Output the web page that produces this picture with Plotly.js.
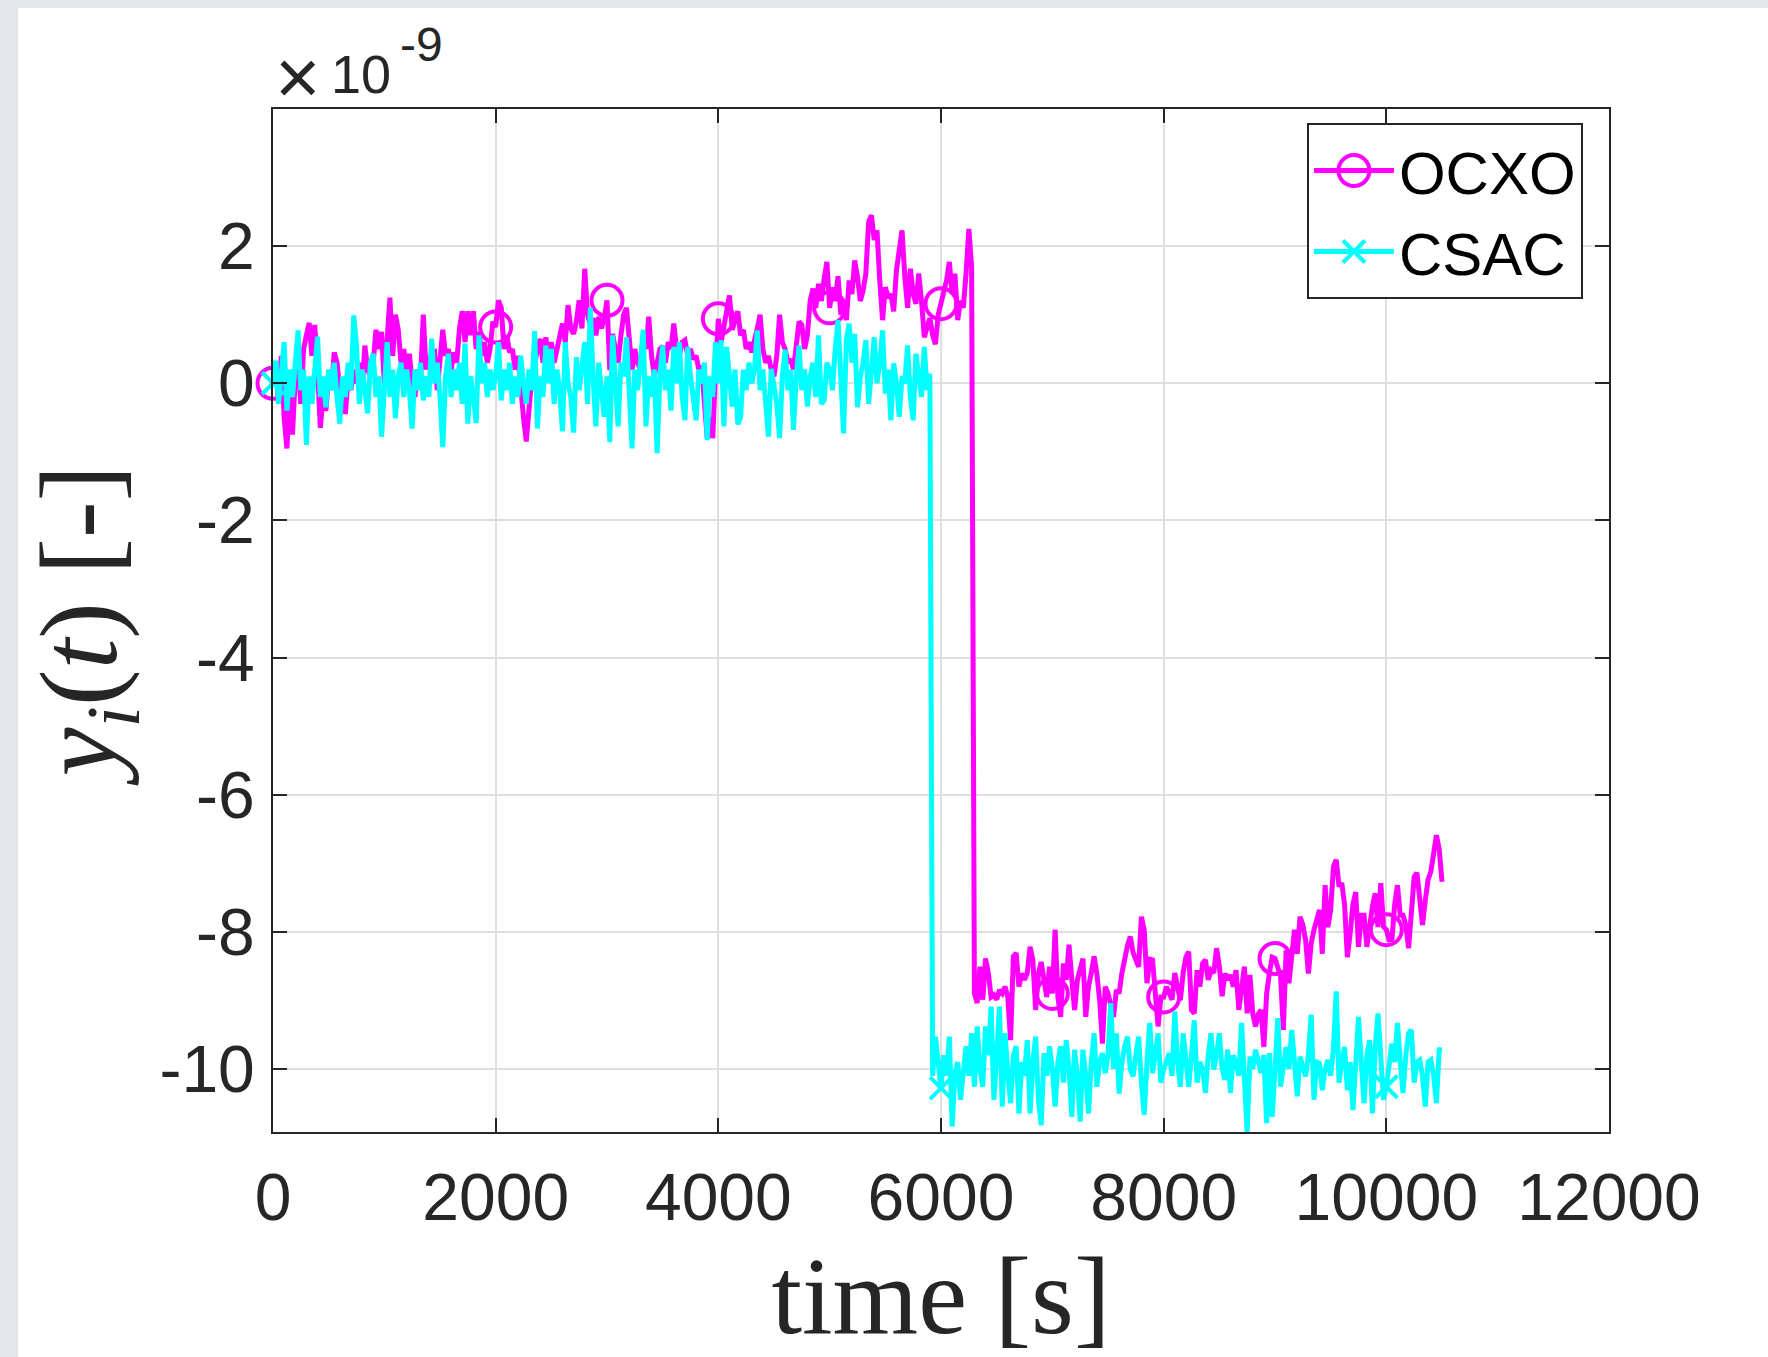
<!DOCTYPE html>
<html><head><meta charset="utf-8">
<script src="https://cdn.plot.ly/plotly-3.0.1.min.js"></script>
<style>
html,body{margin:0;padding:0;background:#e2e6e6;width:1768px;height:1357px;overflow:hidden}
#chart{position:absolute;left:18px;top:8px;width:1750px;height:1349px;background:#fff}
</style></head><body><div id="chart"></div>
<script>
// sample times [s]
const time = [
0,25,50,75,100,125,150,175,200,225,250,275,300,325,350,375,400,425,450,475,500,525,550,575,600,625,650,675,700,725,750,775,800,825,850,875,900,925,950,975,
1000,1025,1050,1075,1100,1125,1150,1175,1200,1225,1250,1275,1300,1325,1350,1375,1400,1425,1450,1475,1500,1525,1550,1575,1600,1625,1650,1675,1700,1725,1750,1775,1800,1825,1850,1875,1900,1925,1950,1975,
2000,2025,2050,2075,2100,2125,2150,2175,2200,2225,2250,2275,2300,2325,2350,2375,2400,2425,2450,2475,2500,2525,2550,2575,2600,2625,2650,2675,2700,2725,2750,2775,2800,2825,2850,2875,2900,2925,2950,2975,
3000,3025,3050,3075,3100,3125,3150,3175,3200,3225,3250,3275,3300,3325,3350,3375,3400,3425,3450,3475,3500,3525,3550,3575,3600,3625,3650,3675,3700,3725,3750,3775,3800,3825,3850,3875,3900,3925,3950,3975,
4000,4025,4050,4075,4100,4125,4150,4175,4200,4225,4250,4275,4300,4325,4350,4375,4400,4425,4450,4475,4500,4525,4550,4575,4600,4625,4650,4675,4700,4725,4750,4775,4800,4825,4850,4875,4900,4925,4950,4975,
5000,5025,5050,5075,5100,5125,5150,5175,5200,5225,5250,5275,5300,5325,5350,5375,5400,5425,5450,5475,5500,5525,5550,5575,5600,5625,5650,5675,5700,5725,5750,5775,5800,5825,5850,5875,5900,5925,5950,5975,
6000,6025,6050,6075,6100,6125,6150,6175,6200,6225,6250,6275,6300,6325,6350,6375,6400,6425,6450,6475,6500,6525,6550,6575,6600,6625,6650,6675,6700,6725,6750,6775,6800,6825,6850,6875,6900,6925,6950,6975,
7000,7025,7050,7075,7100,7125,7150,7175,7200,7225,7250,7275,7300,7325,7350,7375,7400,7425,7450,7475,7500,7525,7550,7575,7600,7625,7650,7675,7700,7725,7750,7775,7800,7825,7850,7875,7900,7925,7950,7975,
8000,8025,8050,8075,8100,8125,8150,8175,8200,8225,8250,8275,8300,8325,8350,8375,8400,8425,8450,8475,8500,8525,8550,8575,8600,8625,8650,8675,8700,8725,8750,8775,8800,8825,8850,8875,8900,8925,8950,8975,
9000,9025,9050,9075,9100,9125,9150,9175,9200,9225,9250,9275,9300,9325,9350,9375,9400,9425,9450,9475,9500,9525,9550,9575,9600,9625,9650,9675,9700,9725,9750,9775,9800,9825,9850,9875,9900,9925,9950,9975,
10000,10025,10050,10075,10100,10125,10150,10175,10200,10225,10250,10275,10300,10325,10350,10375,10400,10425,10450,10475,10500
];

// OCXO fractional frequency, units of 1e-9
const ocxo = [
0.0,0.2,-0.3,0.4,-0.5,-0.95,-0.2,-0.75,0.1,0.3,-0.3,0.5,0.7,0.88,0.4,0.85,0.2,-0.65,-0.2,-0.4,0.1,-0.1,0.45,0.3,-0.1,0.0,-0.45,0.1,-0.1,0.2,0.0,0.3,-0.1,0.55,0.2,0.1,0.3,0.78,0.5,0.75,
0.0,0.6,1.25,0.4,1.0,0.78,0.3,0.5,0.1,0.43,0.0,-0.2,0.2,0.05,1.0,0.2,0.4,0.1,0.5,-0.1,0.3,0.78,0.4,0.5,0.2,0.45,0.3,0.8,1.05,0.6,1.05,0.7,1.05,0.5,0.75,0.4,0.6,0.3,0.5,0.9,
0.82,1.21,1.1,0.5,0.7,0.45,0.5,0.2,0.4,-0.1,-0.5,-0.85,-0.3,0.1,0.3,0.5,0.65,0.3,0.67,0.4,0.6,0.3,0.5,0.7,0.87,0.6,1.14,0.8,0.72,0.9,1.21,0.8,1.67,1.0,0.85,0.95,0.7,0.97,0.8,0.95,
1.21,0.19,0.72,0.5,0.3,0.7,1.0,1.1,0.6,0.2,0.5,0.3,0.2,0.6,0.5,0.97,0.4,0.1,0.3,0.5,0.54,0.3,0.6,0.5,0.87,0.5,0.4,0.6,0.63,0.4,0.5,0.35,0.4,0.2,0.25,-0.3,-0.8,-0.5,-0.8,0.2,
0.94,0.6,0.8,1.0,1.28,0.78,0.9,1.05,0.7,0.78,0.5,0.6,0.45,0.6,0.8,1.0,0.5,0.3,0.4,0.2,0.1,0.4,1.0,0.6,0.5,0.3,0.35,0.2,0.6,0.9,0.85,0.5,0.7,1.2,1.38,1.1,1.45,1.2,1.52,1.77,
1.1,1.4,1.2,1.56,1.0,1.21,0.92,1.5,1.3,1.79,1.55,1.2,1.35,1.6,2.35,2.45,2.09,2.23,1.5,0.92,1.4,1.25,1.3,1.05,1.65,1.9,2.23,1.55,1.1,1.67,1.3,1.16,1.6,1.2,0.67,0.82,0.95,0.7,0.57,1.0,
1.16,1.3,1.5,1.77,1.3,1.6,0.92,1.2,1.1,1.6,2.25,1.7,-8.9,-9.04,-8.51,-8.99,-8.39,-8.6,-8.95,-8.92,-8.99,-8.85,-8.9,-8.8,-8.95,-9.58,-8.36,-8.31,-8.8,-8.61,-8.7,-8.6,-8.22,-8.41,-9.14,-8.61,-8.44,-8.7,-8.95,-8.51,
-8.9,-7.97,-8.95,-9.24,-8.46,-8.7,-8.19,-8.7,-9.14,-8.7,-8.5,-8.39,-9.24,-8.8,-8.6,-8.36,-8.61,-9.0,-9.63,-8.8,-8.9,-9.07,-9.24,-8.85,-8.9,-8.6,-8.36,-8.2,-8.07,-8.3,-8.41,-8.51,-7.78,-7.97,-8.75,-8.4,-8.41,-8.99,-9.38,-8.95,
-8.95,-8.8,-8.9,-8.99,-8.6,-8.8,-9.0,-8.6,-8.37,-8.29,-9.14,-9.19,-8.56,-8.8,-8.46,-8.41,-8.7,-8.56,-8.6,-8.24,-8.5,-8.94,-8.61,-8.7,-8.63,-8.8,-8.56,-9.14,-8.8,-8.51,-9.19,-8.63,-9.19,-9.38,-9.2,-9.14,-9.68,-8.9,-8.6,-8.37,
-8.39,-8.51,-8.65,-9.43,-8.27,-8.75,-8.4,-7.97,-8.32,-7.78,-7.9,-8.12,-8.61,-8.17,-7.97,-7.8,-7.68,-8.32,-7.32,-7.93,-7.68,-7.05,-6.95,-7.34,-7.29,-7.6,-8.37,-8.02,-7.6,-7.42,-8.22,-7.76,-7.76,-8.22,-7.9,-7.63,-7.44,-7.93,-7.29,-7.93,
-7.97,-8.12,-8.12,-7.6,-7.32,-7.76,-7.76,-7.9,-8.24,-7.63,-7.2,-7.14,-7.5,-7.9,-7.54,-7.24,-7.12,-6.9,-6.59,-6.8,-7.27
];

// CSAC fractional frequency, units of 1e-9
const csac = [
0.0,0.33,-0.3,0.1,0.6,-0.4,0.2,-0.2,0.3,0.77,-0.1,0.2,-0.9,0.1,-0.3,0.2,0.68,-0.2,0.1,-0.35,0.2,-0.1,0.3,-0.2,-0.59,0.1,-0.2,0.3,-0.1,0.99,0.55,-0.3,0.2,-0.1,-0.44,0.3,0.43,-0.2,0.1,-0.78,
0.1,0.6,-0.2,0.2,-0.51,0.1,0.3,-0.2,0.2,-0.1,-0.66,0.2,-0.1,0.3,-0.25,0.1,-0.2,0.65,0.0,0.3,-0.2,-0.93,0.1,0.43,-0.2,0.2,-0.1,0.3,-0.3,0.58,-0.59,0.1,-0.2,-0.58,0.7,0.0,0.3,-0.2,0.2,-0.1,
0.1,0.6,-0.25,0.2,-0.1,0.3,-0.3,0.1,-0.2,0.4,0.0,-0.3,0.2,-0.1,0.76,-0.66,0.1,-0.2,0.55,0.0,0.5,-0.3,0.2,-0.1,-0.7,0.6,0.0,-0.2,-0.72,0.38,-0.1,0.2,0.6,-0.3,1.1,0.1,-0.63,0.3,-0.1,-0.49,
0.1,-0.86,0.7,-0.1,-0.63,0.3,0.1,0.67,-0.2,-0.95,0.2,-0.1,0.3,0.78,-0.63,0.1,-0.2,0.2,-1.02,0.1,0.55,-0.1,0.2,-0.4,0.53,0.0,0.6,-0.2,-0.54,0.53,0.1,-0.2,-0.54,0.2,0.0,0.3,-0.83,0.1,-0.2,0.6,
0.0,0.63,-0.63,0.53,0.0,-0.34,0.2,-0.6,-0.49,0.2,-0.1,0.3,0.0,0.2,0.77,-0.1,0.2,-0.2,-0.78,0.21,0.0,-0.3,-0.8,0.1,0.49,-0.1,0.2,-0.68,0.1,0.55,-0.1,0.2,-0.34,0.1,0.3,-0.2,0.7,-0.3,-0.25,0.3,
0.2,-0.1,0.5,0.92,0.1,-0.73,0.63,0.87,0.3,0.72,-0.35,0.09,0.3,0.63,-0.3,0.2,0.67,0.0,0.3,0.77,-0.15,0.2,-0.54,0.29,0.0,-0.49,0.1,0.0,0.55,-0.2,-0.54,0.43,0.1,-0.2,0.53,-0.1,0.14,-10.1,-9.53,-9.9,
-10.28,-9.8,-10.1,-9.53,-10.84,-10.06,-9.9,-10.45,-10.0,-9.67,-10.1,-9.48,-10.26,-9.38,-10.0,-10.26,-9.38,-9.8,-9.09,-10.45,-9.8,-9.09,-10.55,-9.48,-10.06,-10.5,-9.8,-9.67,-10.65,-9.9,-10.1,-9.58,-10.65,-9.9,-9.53,-10.45,-10.82,-9.77,-10.1,-9.67,
-10.0,-10.55,-9.9,-9.67,-10.2,-9.58,-10.0,-10.7,-9.72,-10.1,-10.77,-9.72,-10.1,-10.65,-9.9,-9.48,-10.26,-9.9,-9.77,-10.06,-9.8,-9.04,-10.0,-9.48,-10.36,-9.9,-9.67,-9.53,-10.0,-10.11,-9.8,-9.53,-10.2,-10.67,-9.9,-9.33,-10.06,-9.8,-9.48,-10.2,
-10.0,-9.9,-9.77,-10.1,-9.16,-9.9,-10.26,-9.48,-9.9,-10.26,-9.8,-9.29,-10.2,-9.9,-10.0,-10.35,-9.8,-9.48,-10.01,-9.8,-9.48,-10.0,-10.16,-9.72,-10.35,-9.8,-9.92,-10.1,-9.33,-10.0,-10.94,-9.82,-10.0,-9.72,-9.9,-10.06,-9.8,-10.79,-9.77,-10.7,
-10.0,-9.26,-10.26,-9.9,-9.68,-10.0,-9.43,-9.9,-10.4,-9.82,-10.0,-10.11,-9.8,-9.21,-10.45,-9.9,-9.92,-10.31,-10.0,-9.87,-10.1,-9.7,-8.87,-10.2,-9.9,-9.68,-10.31,-9.9,-10.6,-10.0,-9.24,-9.9,-10.5,-9.8,-9.58,-10.65,-9.68,-9.19,-9.9,-10.45,
-10.26,-10.0,-9.63,-9.9,-9.33,-9.9,-10.35,-9.8,-9.48,-9.43,-10.2,-9.9,-9.87,-10.1,-10.55,-9.9,-9.87,-10.1,-10.5,-9.72,-9.72
];

const seriesNames = ['OCXO', 'CSAC'];
// times at which a visible marker is drawn on each curve
const ocxoMarkerTimes = [0, 2000, 3000, 4000, 5000, 6000, 7000, 8000, 9000, 10000];
const csacMarkerTimes = [0, 6000, 10000];
const xTickVals = [0, 2000, 4000, 6000, 8000, 10000, 12000];
const xTickText = ['0', '2000', '4000', '6000', '8000', '10000', '12000'];
const yTickVals = [-10, -8, -6, -4, -2, 0, 2];
const yTickText = ['-10', '-8', '-6', '-4', '-2', '0', '2'];

const idxOf = (times) => times.map(t => time.indexOf(t)).filter(i => i >= 0);

const axisCol = '#262626';
const traces = [
  {
    x: time, y: ocxo, name: seriesNames[0], type: 'scatter', mode: 'lines+markers',
    line: {color: '#ff00ff', width: 5},
    marker: {symbol: 'circle-open', size: 31, color: '#ff00ff', line: {color: '#ff00ff', width: 4}},
    selectedpoints: idxOf(ocxoMarkerTimes),
    selected: {marker: {opacity: 1}},
    unselected: {marker: {opacity: 0}},
    cliponaxis: false
  },
  {
    x: time, y: csac, name: seriesNames[1], type: 'scatter', mode: 'lines+markers',
    line: {color: '#00ffff', width: 5},
    marker: {symbol: 'x-thin-open', size: 22, color: '#00ffff', line: {color: '#00ffff', width: 4}},
    selectedpoints: idxOf(csacMarkerTimes),
    selected: {marker: {opacity: 1}},
    unselected: {marker: {opacity: 0}},
    cliponaxis: false
  }
];

const tickFont = {family: 'Liberation Sans, Arial, sans-serif', size: 66, color: axisCol};
const sans = 'Liberation Sans, Arial, sans-serif';
const serif = 'Liberation Serif, DejaVu Serif, serif';
const layout = {
  width: 1750, height: 1349,
  margin: {l: 255, r: 159, t: 101, b: 225},
  paper_bgcolor: '#ffffff', plot_bgcolor: '#ffffff',
  showlegend: true,
  hovermode: false,
  xaxis: {
    range: [0, 12000], tickvals: xTickVals, ticktext: xTickText,
    ticks: 'inside', ticklen: 14, tickwidth: 2, tickcolor: axisCol,
    showline: true, linecolor: axisCol, linewidth: 2, mirror: 'ticks',
    showgrid: true, gridcolor: '#dfdfdf', gridwidth: 2, zeroline: false,
    tickfont: tickFont, ticklabelstandoff: 7,
    title: {text: 'time [s]', font: {family: serif, size: 110, color: axisCol}, standoff: 31}
  },
  yaxis: {
    range: [-10.92, 4.0], tickvals: yTickVals, ticktext: yTickText,
    ticks: 'inside', ticklen: 14, tickwidth: 2, tickcolor: axisCol,
    showline: true, linecolor: axisCol, linewidth: 2, mirror: 'ticks',
    showgrid: true, gridcolor: '#dfdfdf', gridwidth: 2, zeroline: false,
    tickfont: tickFont, ticklabelstandoff: 3,
    title: {text: '<i>y</i><sub><i>i</i></sub>(<i>t</i>) [-]', font: {family: serif, size: 110, color: axisCol}, standoff: 27}
  },
  legend: {
    x: 0.9805, y: 0.9863, xanchor: 'right', yanchor: 'top',
    bgcolor: '#ffffff', bordercolor: axisCol, borderwidth: 2,
    font: {family: sans, size: 60, color: '#000000'},
    itemwidth: 80, tracegroupgap: 0
  },
  annotations: [
    {text: '×', xref: 'paper', yref: 'paper', x: 0.0187, y: 1.0313, xanchor: 'center', yanchor: 'middle',
     showarrow: false, font: {family: sans, size: 78, color: axisCol}},
    {text: '10', xref: 'paper', yref: 'paper', x: 0.0419, y: 1.034, xanchor: 'left', yanchor: 'middle',
     showarrow: false, font: {family: sans, size: 54, color: axisCol}},
    {text: '-9', xref: 'paper', yref: 'paper', x: 0.0936, y: 1.0626, xanchor: 'left', yanchor: 'middle',
     showarrow: false, font: {family: sans, size: 48, color: axisCol}}
  ]
};

// legend glyph sizes as in the reference (Plotly caps legend markers at 16 px)
const legendGlyph = [{size: 31, stroke: 4}, {size: 22, stroke: 4}];

Plotly.newPlot('chart', traces, layout, {displayModeBar: false, staticPlot: true}).then(gd => {
  const items = gd.querySelectorAll('.legend .traces');
  items.forEach((item, k) => {
    const g = legendGlyph[k];
    if (!g) return;
    item.querySelectorAll('.legendpoints path.scatterpts').forEach(p => {
      const s = g.size / 16;
      const tr = p.getAttribute('transform') || '';
      p.setAttribute('transform', tr + ' scale(' + s + ')');
      p.style.strokeWidth = (g.stroke / s) + 'px';
    });
  });
});
</script></body></html>
